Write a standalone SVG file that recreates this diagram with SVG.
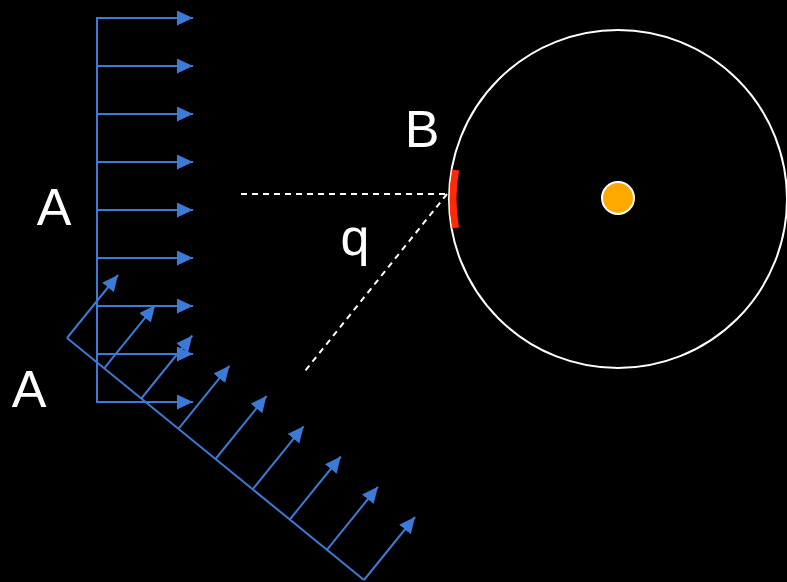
<svg xmlns="http://www.w3.org/2000/svg" width="787" height="582" viewBox="0 0 787 582">
<defs>
<style>
.blue{stroke:#3b7ad6;stroke-width:2;fill:none}
.arr{stroke:#3b7ad6;stroke-width:2;fill:none;marker-end:url(#ah)}
.dash{stroke:#ffffff;stroke-width:2;stroke-dasharray:6 5;fill:none}
.lbl{font-family:"Liberation Sans",Arial,sans-serif;font-size:52px;fill:#ffffff;text-anchor:middle}
</style>
<marker id="ah" markerUnits="userSpaceOnUse" markerWidth="18" markerHeight="16" refX="16" refY="7.5" orient="auto">
<path d="M0,0 L16,7.5 L0,15 Z" fill="#3b7ad6"/>
</marker>
</defs>
<rect width="787" height="582" fill="#000000"/>
<g id="connectors">
<g id="vertical-profile">
<line class="blue" x1="97" y1="17" x2="97" y2="403"/>
<line class="arr" x1="97" y1="18" x2="193" y2="18"/>
<line class="arr" x1="97" y1="66" x2="193" y2="66"/>
<line class="arr" x1="97" y1="114" x2="193" y2="114"/>
<line class="arr" x1="97" y1="162" x2="193" y2="162"/>
<line class="arr" x1="97" y1="210" x2="193" y2="210"/>
<line class="arr" x1="97" y1="258" x2="193" y2="258"/>
<line class="arr" x1="97" y1="306" x2="193" y2="306"/>
<line class="arr" x1="97" y1="354" x2="193" y2="354"/>
<line class="arr" x1="97" y1="402" x2="193" y2="402"/>
</g>
<g id="diagonal-profile">
<line class="blue" x1="67" y1="338" x2="364" y2="580"/>
<line class="arr" x1="67" y1="338" x2="118" y2="275"/>
<line class="arr" x1="104.1" y1="368.3" x2="155.1" y2="305.3"/>
<line class="arr" x1="141.3" y1="398.5" x2="192.3" y2="335.5"/>
<line class="arr" x1="178.4" y1="428.8" x2="229.4" y2="365.8"/>
<line class="arr" x1="215.5" y1="459" x2="266.5" y2="396"/>
<line class="arr" x1="252.6" y1="489.3" x2="303.6" y2="426.3"/>
<line class="arr" x1="289.8" y1="519.5" x2="340.8" y2="456.5"/>
<line class="arr" x1="326.9" y1="549.8" x2="377.9" y2="486.8"/>
<line class="arr" x1="364" y1="580" x2="415" y2="517"/>
</g>
<line class="dash" x1="241" y1="194" x2="447" y2="194"/>
<line class="dash" x1="447" y1="194" x2="305" y2="371"/>
</g>
<g id="circle">
<circle cx="618" cy="199" r="169" fill="none" stroke="#ffffff" stroke-width="2"/>
</g>
<g id="red-arc">
<path d="M455.6,170 A165,165 0 0 0 455.6,228" fill="none" stroke="#ff2a00" stroke-width="7"/>
</g>
<g id="center-dot">
<circle cx="618" cy="198" r="16" fill="#ffa800" stroke="#ffffff" stroke-width="2"/>
</g>
<g id="labels">
<text class="lbl" x="54" y="225">A</text>
<text class="lbl" x="29" y="407">A</text>
<text class="lbl" x="422" y="147">B</text>
<text class="lbl" x="355" y="255">q</text>
</g>
</svg>
